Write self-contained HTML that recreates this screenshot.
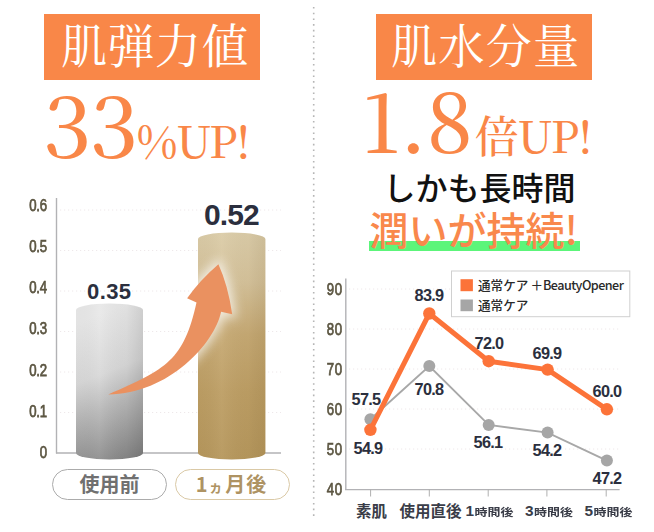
<!DOCTYPE html>
<html><head><meta charset="utf-8">
<style>
*{margin:0;padding:0;box-sizing:border-box}
html,body{width:654px;height:532px;background:#fff;overflow:hidden}
body{position:relative;font-family:"Liberation Sans","Noto Sans CJK JP",sans-serif}
.a{position:absolute;white-space:nowrap}
.hbox{position:absolute;top:14px;width:216px;height:66px;background:#f98748}
.htxt{position:absolute;top:6px;left:0;font-family:"Noto Serif CJK JP",serif;font-weight:400;font-size:46.3px;line-height:46px;color:#fff;white-space:nowrap}
.big{font-family:"Noto Serif CJK JP",serif;color:#f98748;font-weight:500}
.yl{position:absolute;font-size:16.5px;line-height:14px;color:#5c5642;letter-spacing:-0.2px;text-align:right;width:30px;-webkit-text-stroke:0.75px #5c5642;transform:scaleX(0.8);transform-origin:100% 50%}
.val{position:absolute;font-weight:bold;color:#2b2f3e;font-size:16.3px;line-height:16px;letter-spacing:-0.7px;white-space:nowrap;text-align:center;width:40px}
.xl{position:absolute;font-family:"Liberation Sans","Noto Sans CJK JP",sans-serif;font-weight:bold;color:#3a3d48;font-size:15.4px;line-height:15px;white-space:nowrap;top:504px}
.xl small{font-size:13px;display:inline-block;transform:scaleY(0.82);transform-origin:50% 90%;position:relative;top:0px;margin-left:0.5px}
svg{position:absolute;left:0;top:0}
</style></head><body>

<!-- left header -->
<div class="hbox" style="left:44px"><div class="htxt" style="left:17px;letter-spacing:0.6px">肌弾力値</div></div>
<!-- right header -->
<div class="hbox" style="left:376px"><div class="htxt" style="left:15px;letter-spacing:1px">肌水分量</div></div>

<svg width="654" height="532" viewBox="0 0 654 532">
  <defs>
    <linearGradient id="gv" x1="85" y1="320" x2="140" y2="458" gradientUnits="userSpaceOnUse">
      <stop offset="0" stop-color="#e8e8e8"/>
      <stop offset="0.38" stop-color="#d8d8d8"/>
      <stop offset="0.6" stop-color="#b8b8b8"/>
      <stop offset="1" stop-color="#828282"/>
    </linearGradient>
    <linearGradient id="gh" x1="76" x2="143" y1="0" y2="0" gradientUnits="userSpaceOnUse">
      <stop offset="0" stop-color="#000" stop-opacity="0.02"/>
      <stop offset="0.35" stop-color="#fff" stop-opacity="0.06"/>
      <stop offset="0.75" stop-color="#000" stop-opacity="0.03"/>
      <stop offset="1" stop-color="#000" stop-opacity="0.1"/>
    </linearGradient>
    <linearGradient id="yv" x1="0" x2="0" y1="232" y2="460" gradientUnits="userSpaceOnUse">
      <stop offset="0" stop-color="#dbcca8"/>
      <stop offset="0.22" stop-color="#d5c29a"/>
      <stop offset="0.45" stop-color="#c6a973"/>
      <stop offset="0.7" stop-color="#bd9e64"/>
      <stop offset="1" stop-color="#b6975c"/>
    </linearGradient>
    <linearGradient id="yh" x1="198" x2="265.4" y1="0" y2="0" gradientUnits="userSpaceOnUse">
      <stop offset="0" stop-color="#000" stop-opacity="0.02"/>
      <stop offset="0.35" stop-color="#fff" stop-opacity="0.05"/>
      <stop offset="0.75" stop-color="#000" stop-opacity="0.02"/>
      <stop offset="1" stop-color="#5a4010" stop-opacity="0.1"/>
    </linearGradient>
    <clipPath id="yclip"><path d="M198,239 A33.7,6.5 0 0 1 265.4,239 L265.4,453 A33.7,6.5 0 0 1 198,453 Z"/></clipPath>
    <filter id="blur" x="-50%" y="-50%" width="200%" height="200%"><feGaussianBlur stdDeviation="5.5"/></filter>
  </defs>

  <!-- separator -->
  <line x1="313.7" y1="7" x2="313.7" y2="517" stroke="#b5b5b5" stroke-width="1.6" stroke-dasharray="1.6 4.1"/>

  <!-- LEFT CHART grid -->
  <g stroke="#eee8ea" stroke-width="1" stroke-dasharray="1.2 2.8">
    <line x1="60" y1="210" x2="281" y2="210"/>
    <line x1="60" y1="250.5" x2="281" y2="250.5"/>
    <line x1="60" y1="291" x2="281" y2="291"/>
    <line x1="60" y1="331.5" x2="281" y2="331.5"/>
    <line x1="60" y1="372" x2="281" y2="372"/>
    <line x1="60" y1="412.5" x2="281" y2="412.5"/>
  </g>
  <line x1="56.5" y1="198" x2="56.5" y2="453.5" stroke="#b2b2b5" stroke-width="1.4"/>
  <line x1="56" y1="453" x2="281" y2="453" stroke="#b2b2b5" stroke-width="1.4"/>

  <!-- gray cylinder -->
  <path d="M76,310 A33.5,6.5 0 0 1 143,310 L143,453 A33.5,6.5 0 0 1 76,453 Z" fill="url(#gv)"/>
  <path d="M76,310 A33.5,6.5 0 0 1 143,310 L143,453 A33.5,6.5 0 0 1 76,453 Z" fill="url(#gh)"/>
  
  <!-- gold cylinder -->
  <path d="M198,239 A33.7,6.5 0 0 1 265.4,239 L265.4,453 A33.7,6.5 0 0 1 198,453 Z" fill="url(#yv)"/>
  <path d="M198,239 A33.7,6.5 0 0 1 265.4,239 L265.4,453 A33.7,6.5 0 0 1 198,453 Z" fill="url(#yh)"/>
  <g clip-path="url(#yclip)"><path d="M108.3,394.4 C166.8,369.4 183.7,359.9 196.5,302.5 L187.1,298.2 Q200,280 218.4,264.2 Q228,285 232.2,314.2 L221.1,311.8 C214.4,343.7 169.2,393.7 108.3,394.4 Z" fill="#fff" stroke="#fff" stroke-width="7" opacity="0.7" filter="url(#blur)"/></g>

  <!-- arrow -->
  <path d="M108.3,394.4 C166.8,369.4 183.7,359.9 196.5,302.5 L187.1,298.2 Q200,280 218.4,264.2 Q228,285 232.2,314.2 L221.1,311.8 C214.4,343.7 169.2,393.7 108.3,394.4 Z" fill="#ea9160"/>

  <!-- RIGHT CHART grid -->
  <g stroke="#eee8ea" stroke-width="1" stroke-dasharray="1.2 2.8">
    <line x1="349" y1="289" x2="620" y2="289"/>
    <line x1="349" y1="329" x2="620" y2="329"/>
    <line x1="349" y1="369" x2="620" y2="369"/>
    <line x1="349" y1="409" x2="620" y2="409"/>
    <line x1="349" y1="449" x2="620" y2="449"/>
  </g>
  <line x1="345.8" y1="278.5" x2="345.8" y2="489.5" stroke="#b2b2b5" stroke-width="1.4"/>
  <line x1="345" y1="489.6" x2="619.6" y2="489.6" stroke="#b2b2b5" stroke-width="1.4"/>
  <g stroke="#b0b0b0" stroke-width="1">
    <line x1="370.6" y1="489" x2="370.6" y2="496.5"/>
    <line x1="429.3" y1="489" x2="429.3" y2="496.5"/>
    <line x1="488.2" y1="489" x2="488.2" y2="496.5"/>
    <line x1="546.9" y1="489" x2="546.9" y2="496.5"/>
    <line x1="606.2" y1="489" x2="606.2" y2="496.5"/>
  </g>

  <!-- gray series -->
  <polyline points="370.4,419.3 429.3,366.0 488.7,424.9 547.6,432.6 606.9,460.6" fill="none" stroke="#a8a8a8" stroke-width="1.9"/>
  <g fill="#a6a6a6">
    <circle cx="370.4" cy="419.3" r="6"/><circle cx="429.3" cy="366" r="6"/><circle cx="488.7" cy="424.9" r="6"/><circle cx="547.6" cy="432.6" r="6"/><circle cx="606.9" cy="460.6" r="6"/>
  </g>
  <!-- orange series -->
  <polyline points="370.4,429.8 429.3,313.5 488.7,361.2 547.6,369.6 606.9,409.3" fill="none" stroke="#fc7339" stroke-width="5" stroke-linejoin="round"/>
  <g fill="#fc7339">
    <circle cx="370.4" cy="429.8" r="6.2"/><circle cx="429.3" cy="313.5" r="6.2"/><circle cx="488.7" cy="361.2" r="6.2"/><circle cx="547.6" cy="369.6" r="6.2"/><circle cx="606.9" cy="409.3" r="6.2"/>
  </g>

  <!-- legend -->
  <rect x="451.5" y="271" width="178.3" height="45.7" fill="#fff" stroke="#d0d0d0" stroke-width="1"/>
  <rect x="460.5" y="279.2" width="12.4" height="12" fill="#fc7339"/>
  <rect x="460.5" y="299.5" width="12.4" height="11.7" fill="#a6a6a6"/>
</svg>

<!-- big numbers -->
<div class="a big" style="left:43px;top:76.5px;font-size:86px;line-height:88px;letter-spacing:-1.5px">33<span style="font-size:44px;letter-spacing:-1.5px">%UP!</span></div>
<div class="a big" style="left:362px;top:74px;font-size:81px;line-height:88px">1.8<span style="font-size:44px;letter-spacing:-1.2px;margin-left:2px">倍UP!</span></div>

<!-- しかも長時間 -->
<div class="a" style="left:383.5px;top:168px;font-family:'Noto Sans CJK JP',sans-serif;font-weight:500;font-size:32px;line-height:36px;color:#111">しかも長時間</div>
<div class="a" style="left:368.7px;top:241.2px;width:211.5px;height:9.5px;background:#5cf57a"></div>
<div class="a" style="left:369.5px;top:205.5px;font-family:'Noto Sans CJK JP',sans-serif;font-weight:500;font-size:39px;line-height:44px;color:#f9884c">潤いが持続!</div>

<!-- left chart y labels -->
<div class="yl" style="left:17px;top:197.8px">0.6</div>
<div class="yl" style="left:17px;top:238.8px">0.5</div>
<div class="yl" style="left:17px;top:280.3px">0.4</div>
<div class="yl" style="left:17px;top:321.3px">0.3</div>
<div class="yl" style="left:17px;top:362.8px">0.2</div>
<div class="yl" style="left:17px;top:404.3px">0.1</div>
<div class="yl" style="left:17px;top:445.3px">0</div>

<!-- left values -->
<div class="a" style="left:87px;top:280px;font-weight:bold;font-size:22px;line-height:24px;letter-spacing:0.4px;color:#2b2f3e">0.35</div>
<div class="a" style="left:204px;top:198px;font-weight:bold;font-size:30px;line-height:34px;letter-spacing:-0.9px;color:#2b2f3e">0.52</div>

<!-- pills -->
<div class="a" style="left:52px;top:469px;width:115px;height:30.5px;border:1.8px solid #ababab;border-radius:16px;text-align:center;font-family:'Noto Sans CJK JP',sans-serif;font-weight:700;font-size:20px;line-height:27px;color:#707070">使用前</div>
<div class="a" style="left:174.5px;top:469px;width:115px;height:30.5px;border:1.8px solid #dac9a6;border-radius:16px;text-align:center;font-family:'Noto Sans CJK JP',sans-serif;font-weight:700;font-size:20px;line-height:27px;color:#ae9363;letter-spacing:1px;text-indent:-1px">1<span style="font-size:14px;margin-right:1.5px">ヵ</span>月後</div>

<!-- right chart y labels -->
<div class="yl" style="left:312.5px;top:281.8px;letter-spacing:1px">90</div>
<div class="yl" style="left:312.5px;top:321.8px;letter-spacing:1px">80</div>
<div class="yl" style="left:312.5px;top:361.8px;letter-spacing:1px">70</div>
<div class="yl" style="left:312.5px;top:401.8px;letter-spacing:1px">60</div>
<div class="yl" style="left:312.5px;top:441.8px;letter-spacing:1px">50</div>
<div class="yl" style="left:312.5px;top:481.8px;letter-spacing:1px">40</div>

<!-- right values -->
<div class="val" style="left:409px;top:287px">83.9</div>
<div class="val" style="left:469px;top:335px">72.0</div>
<div class="val" style="left:527px;top:345px">69.9</div>
<div class="val" style="left:587px;top:383px">60.0</div>
<div class="val" style="left:346px;top:391px">57.5</div>
<div class="val" style="left:348px;top:440px">54.9</div>
<div class="val" style="left:409px;top:381px">70.8</div>
<div class="val" style="left:468px;top:433.5px">56.1</div>
<div class="val" style="left:527px;top:442px">54.2</div>
<div class="val" style="left:587px;top:470px">47.2</div>

<!-- legend text -->
<div class="a" style="left:478px;top:276px;font-family:'Noto Sans CJK JP',sans-serif;font-weight:500;font-size:12.6px;line-height:17px;color:#2a2a2a">通常ケア<span style="margin-left:2px">＋</span><span style="letter-spacing:-0.55px">BeautyOpener</span></div>
<div class="a" style="left:478px;top:296px;font-family:'Noto Sans CJK JP',sans-serif;font-weight:500;font-size:12.6px;line-height:17px;color:#2a2a2a">通常ケア</div>

<!-- x labels -->
<div class="xl" style="left:356px">素肌</div>
<div class="xl" style="left:399.5px;font-size:15.5px">使用直後</div>
<div class="xl" style="left:465.5px;top:502.5px">1<small>時間後</small></div>
<div class="xl" style="left:525px;top:502.5px">3<small>時間後</small></div>
<div class="xl" style="left:584.5px;top:502.5px">5<small>時間後</small></div>

</body></html>
